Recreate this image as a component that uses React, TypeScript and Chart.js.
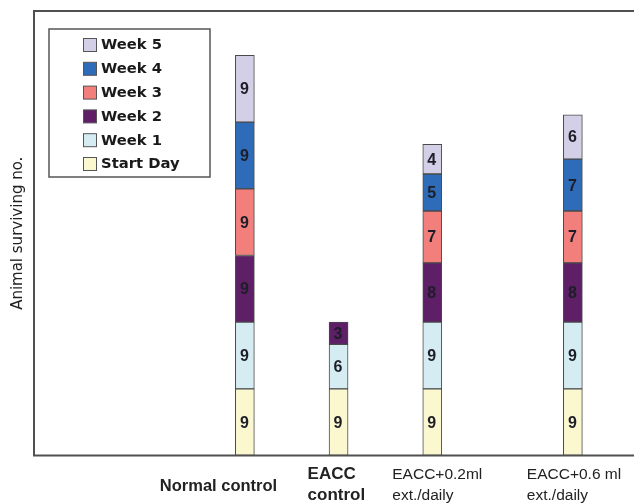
import React, { useEffect, useRef } from "react";
import { Chart, registerables } from "chart.js";

Chart.register(...registerables);

// ---- data ----
const categories: string[][] = [
  ["Normal control"],
  ["EACC", "control"],
  ["EACC+0.2ml", "ext./daily"],
  ["EACC+0.6 ml", "ext./daily"],
];
// position of each group along the (unevenly spaced) category axis
const groupSlots = [4, 6, 8, 11];
const seriesNames = ["Start Day", "Week 1", "Week 2", "Week 3", "Week 4", "Week 5"];
const startDay = [9, 9, 9, 9];
const week1 = [9, 6, 9, 9];
const week2 = [9, 3, 8, 8];
const week3 = [9, null, 7, 7];
const week4 = [9, null, 5, 7];
const week5 = [9, null, 4, 6];
const yAxisTitle = "Animal surviving no.";

// ---- styles ----
const seriesColors = ["#fbf7cf", "#d5edf2", "#5e1f66", "#f27f7c", "#2e6bb8", "#d2cfe6"];
const labelStyles = [
  { dx: -85, font: "bold 16.5px 'Liberation Sans'", lineY: [35.5] },
  { dx: -31, font: "bold 17px 'Liberation Sans'", lineY: [23.5, 44.5] },
  { dx: -40, font: "15.5px 'Liberation Sans'", lineY: [23, 44] },
  { dx: -46, font: "15.5px 'Liberation Sans'", lineY: [23, 44] },
];

const allSeries = [startDay, week1, week2, week3, week4, week5];

const overlayPlugin = {
  id: "overlay",
  afterDatasetsDraw(chart: any) {
    const { ctx, chartArea, scales } = chart;
    const x = scales.x;
    ctx.save();
    // value labels inside segments
    ctx.font = "bold 16px 'Liberation Sans'";
    ctx.fillStyle = "#1e1e28";
    ctx.textAlign = "center";
    ctx.textBaseline = "middle";
    chart.data.datasets.forEach((ds: any, di: number) => {
      const meta = chart.getDatasetMeta(di);
      meta.data.forEach((el: any, i: number) => {
        const v = ds.data[i].y;
        if (v === null || v === undefined) return;
        ctx.fillText(String(v), el.x - 0.5, (el.y + el.base) / 2 + 1);
      });
    });
    // frame
    ctx.strokeStyle = "#505050";
    ctx.lineWidth = 2;
    ctx.beginPath();
    ctx.moveTo(chart.width, chartArea.top);
    ctx.lineTo(chartArea.left, chartArea.top);
    ctx.lineTo(chartArea.left, chartArea.bottom);
    ctx.lineTo(chart.width, chartArea.bottom);
    ctx.stroke();
    // category labels
    ctx.fillStyle = "#222";
    ctx.textAlign = "left";
    ctx.textBaseline = "alphabetic";
    categories.forEach((lines, i) => {
      const st = labelStyles[i];
      const px = x.getPixelForValue(groupSlots[i]) + st.dx;
      ctx.font = st.font;
      lines.forEach((line, li) => {
        ctx.fillText(line, px, chartArea.bottom + st.lineY[li]);
      });
    });
    // y axis title
    ctx.save();
    ctx.translate(18.5, (chartArea.top + chartArea.bottom) / 2);
    ctx.rotate(-Math.PI / 2);
    ctx.font = "15px 'DejaVu Sans'";
    ctx.textAlign = "center";
    ctx.textBaseline = "middle";
    ctx.fillText(yAxisTitle, 0, 0);
    ctx.restore();
    // legend
    const lx = 49, ly = 29, lw = 161, lh = 148;
    ctx.fillStyle = "#fff";
    ctx.fillRect(lx, ly, lw, lh);
    ctx.strokeStyle = "#555";
    ctx.lineWidth = 1.5;
    ctx.strokeRect(lx, ly, lw, lh);
    const n = chart.data.datasets.length;
    ctx.font = "bold 14.8px 'DejaVu Sans'";
    ctx.textBaseline = "middle";
    for (let k = 0; k < n; k++) {
      const ds = chart.data.datasets[n - 1 - k];
      const cy = ly + 16 + k * 23.8;
      ctx.fillStyle = ds.backgroundColor;
      ctx.fillRect(83.5, cy - 6.5, 13, 13);
      ctx.strokeStyle = "#555";
      ctx.lineWidth = 1;
      ctx.strokeRect(83.5, cy - 6.5, 13, 13);
      ctx.fillStyle = "#1a1a1a";
      ctx.fillText(ds.label, 101, cy + 0.5);
    }
    ctx.restore();
  },
};

export default function App() {
  const ref = useRef<HTMLCanvasElement | null>(null);
  useEffect(() => {
    if (!ref.current) return;
    const chart = new Chart(ref.current, {
      type: "bar",
      data: {
        datasets: allSeries.map((arr, si) => ({
          label: seriesNames[si],
          data: groupSlots.map((s, i) => ({ x: s, y: arr[i] })) as any,
          backgroundColor: seriesColors[si],
          borderColor: "#4a4a4a",
          borderWidth: 1,
          borderSkipped: false,
          barThickness: 19,
        })),
      },
      options: {
        animation: false,
        responsive: false,
        devicePixelRatio: 1,
        layout: { padding: { left: 34, top: 11, right: 0, bottom: 47.5 } },
        plugins: { legend: { display: false }, tooltip: { enabled: false }, title: { display: false } },
        scales: {
          x: {
            type: "linear",
            stacked: true,
            display: false,
            min: -0.5,
            max: 12.86,
            offset: false,
            bounds: "data",
          },
          y: { stacked: true, display: false, min: 0, max: 60 },
        },
      },
      plugins: [overlayPlugin],
    });
    return () => chart.destroy();
  }, []);
  return (
    <div style={{ position: "fixed", left: 0, top: 0, width: 634, height: 503, overflow: "hidden", background: "#fff" }}>
      <canvas ref={ref} width={660} height={503} style={{ display: "block", width: 660, height: 503 }} />
    </div>
  );
}
